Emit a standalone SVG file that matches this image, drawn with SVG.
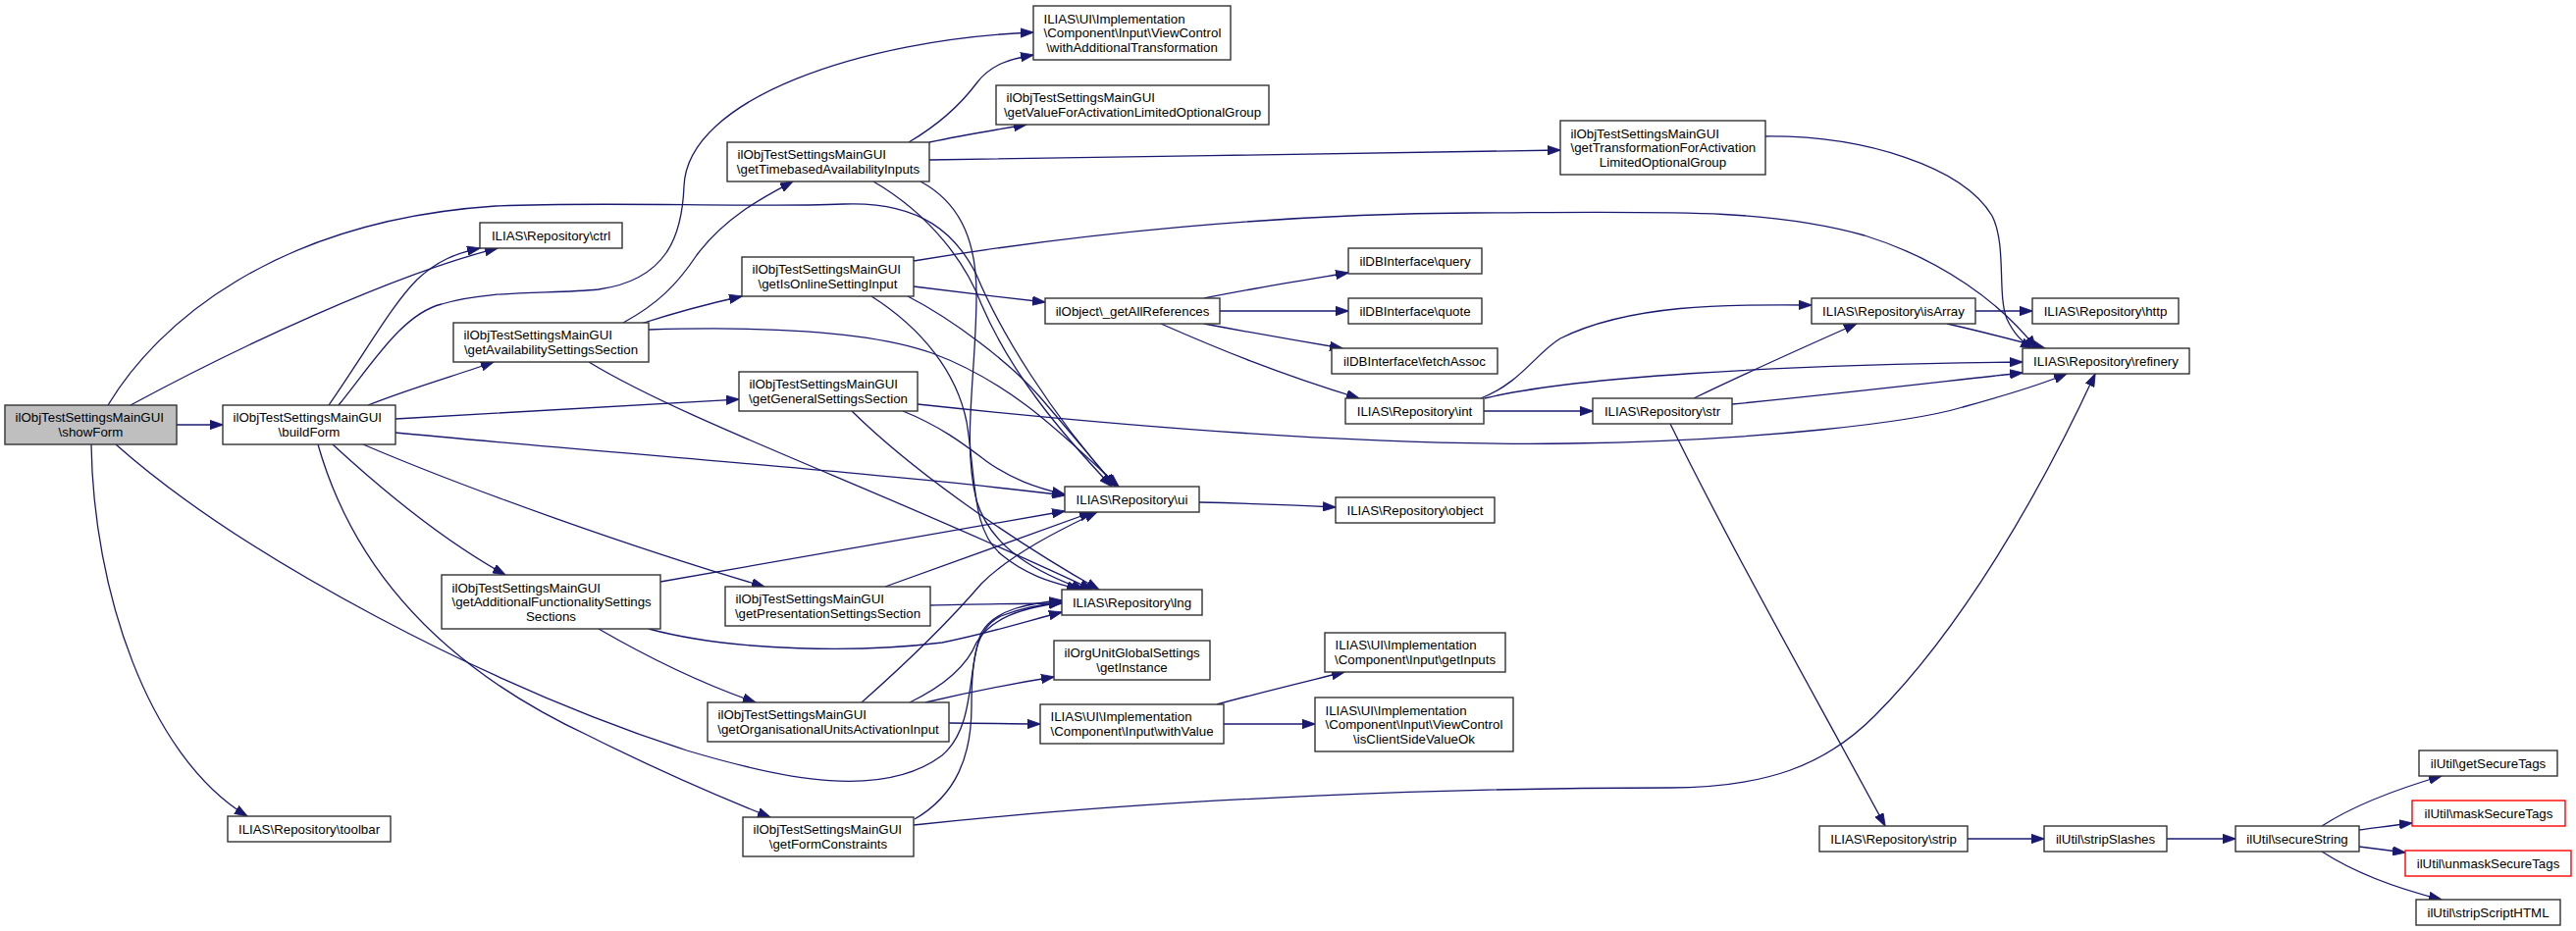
<svg xmlns="http://www.w3.org/2000/svg" width="2625" height="949" viewBox="0 0 2625 949">
<style>
.n rect{fill:#ffffff;stroke:#333333;stroke-width:1.4}
.n.root rect{fill:#bfbfbf}
.n.red rect{stroke:#ff0000}
text{font-family:"Liberation Sans",Arial,Helvetica,sans-serif;font-size:13.3px;fill:#000000}
.c{text-anchor:middle}
.e path{fill:none;stroke:#191970;stroke-width:1.3;marker-end:url(#ah)}
</style>
<defs>
<marker id="ah" markerWidth="14" markerHeight="10" refX="13" refY="5" orient="auto" markerUnits="userSpaceOnUse" viewBox="0 0 14 10">
<path d="M0,0.3 L13.5,5 L0,9.7 Z" fill="#191970" stroke="#191970" stroke-width="0.8"/>
</marker>
</defs>
<rect x="0" y="0" width="2625" height="949" fill="#ffffff"/>

<g id="edges" class="e">
<path d="M180,433 L227,433"/>
<path d="M133,413 C240,355 400,280 507,253"/>
<path d="M110,413 C160,330 280,225 505,210 C620,205 760,212 860,208 C940,205 975,240 995,280 C1020,340 1070,420 1137,496"/>
<path d="M93,453 C95,600 150,770 252,832"/>
<path d="M118,453 C250,570 500,700 700,765 C800,795 900,815 960,770 C995,740 985,680 1000,645 C1015,620 1050,615 1082,612"/>
<path d="M335,413 C375,355 400,310 425,285 C445,266 465,258 489,253"/>
<path d="M345,413 C380,370 410,320 450,310 C500,295 560,300 610,295 C680,285 695,240 697,190 C700,100 880,40 1053,33"/>
<path d="M375,413 C420,395 470,381 503,369"/>
<path d="M403,427 C550,418 650,413 753,407"/>
<path d="M403,441 C600,460 900,482 1085,505"/>
<path d="M370,453 C480,500 650,560 779,598"/>
<path d="M339,453 C390,500 450,550 515,586"/>
<path d="M324,453 C360,580 450,680 600,750 C680,790 740,815 785,833"/>
<path d="M635,329 C670,310 690,290 710,260 C740,220 780,200 808,185"/>
<path d="M653,330 C690,318 720,310 756,302"/>
<path d="M661,336 C760,333 880,335 950,360 C1030,390 1080,440 1140,496"/>
<path d="M600,369 C700,430 900,500 1113,601"/>
<path d="M926,145 C960,125 980,105 995,85 C1010,65 1030,60 1053,56"/>
<path d="M947,145 C980,138 1010,133 1046,127"/>
<path d="M947,163 C1150,160 1400,156 1590,153"/>
<path d="M890,185 C950,220 985,270 1000,310 C1030,380 1080,440 1133,496"/>
<path d="M938,185 C975,205 995,240 995,300 C995,380 980,450 995,510 C1010,560 1060,585 1105,601"/>
<path d="M931,266 C1100,238 1300,218 1500,217 C1700,216 1800,212 1900,240 C1980,265 2040,310 2075,355"/>
<path d="M1799,139 C1900,138 2000,170 2030,220 C2045,250 2035,300 2045,325 C2052,340 2062,350 2072,355"/>
<path d="M931,292 C980,298 1020,303 1065,308"/>
<path d="M925,302 C970,325 1030,370 1060,405 C1090,440 1115,470 1137,496"/>
<path d="M888,302 C940,335 975,380 985,430 C995,490 990,540 1020,565 C1050,590 1080,595 1100,601"/>
<path d="M935,412 C1150,435 1400,455 1600,452 C1800,449 1950,430 2000,415 C2040,404 2080,392 2106,381"/>
<path d="M920,419 C960,435 985,455 1005,470 C1030,488 1055,497 1085,504"/>
<path d="M868,419 C930,480 1030,550 1120,601"/>
<path d="M673,593 C800,570 950,545 1085,521"/>
<path d="M661,641 C750,665 880,665 960,655 C1010,645 1050,632 1082,624"/>
<path d="M610,641 C660,670 710,695 770,716"/>
<path d="M902,598 C980,570 1050,545 1113,522"/>
<path d="M948,617 C1000,616 1040,615 1082,615"/>
<path d="M878,716 C930,670 970,630 1000,595 C1030,565 1080,540 1118,522"/>
<path d="M927,716 C960,700 985,680 995,655 C1010,630 1040,620 1082,614"/>
<path d="M943,716 C990,705 1030,697 1074,690"/>
<path d="M967,737 C1000,737 1030,738 1060,738"/>
<path d="M932,835 C975,810 990,770 990,720 C990,670 995,640 1020,628 C1040,620 1060,616 1082,614"/>
<path d="M931,841 C1200,812 1500,803 1700,803 C1800,803 1860,780 1910,730 C2000,640 2080,500 2135,381"/>
<path d="M1227,304 C1270,295 1320,287 1374,278"/>
<path d="M1243,317 L1374,317"/>
<path d="M1227,330 C1280,340 1320,347 1368,355"/>
<path d="M1183,330 C1240,355 1300,380 1385,406"/>
<path d="M1509,406 C1550,390 1565,360 1590,345 C1660,310 1760,310 1846,311"/>
<path d="M1512,419 L1623,419"/>
<path d="M1513,406 C1600,385 1800,372 2061,369"/>
<path d="M1726,406 C1780,380 1840,353 1892,330"/>
<path d="M1765,412 C1870,402 1970,390 2061,380"/>
<path d="M1702,432 C1770,570 1850,710 1921,842"/>
<path d="M2013,317 L2071,317"/>
<path d="M1984,330 C2020,338 2050,346 2084,355"/>
<path d="M1222,512 C1270,513 1320,515 1361,517"/>
<path d="M1240,718 C1280,707 1330,695 1370,685"/>
<path d="M1247,738 L1340,738"/>
<path d="M2005,855 L2083,855"/>
<path d="M2208,855 L2278,855"/>
<path d="M2366,842 C2400,820 2440,805 2488,791"/>
<path d="M2404,846 C2420,844 2440,841 2458,839"/>
<path d="M2404,863 C2420,865 2435,867 2451,869"/>
<path d="M2366,868 C2400,890 2440,905 2488,917"/>
</g>

<g id="n_showForm" class="n root"><rect x="5" y="413" width="175" height="40"/><text x="15.5" y="430.4">ilObjTestSettingsMainGUI</text><text class="c" x="92.5" y="444.9">\showForm</text></g>
<g id="n_buildForm" class="n"><rect x="227" y="413" width="176" height="40"/><text x="237.5" y="430.4">ilObjTestSettingsMainGUI</text><text class="c" x="315" y="444.9">\buildForm</text></g>
<g id="n_toolbar" class="n"><rect x="232" y="832" width="166" height="26"/><text class="c" x="315" y="849.6">ILIAS\Repository\toolbar</text></g>
<g id="n_ctrl" class="n"><rect x="489" y="227" width="145" height="26"/><text class="c" x="561.5" y="244.6">ILIAS\Repository\ctrl</text></g>
<g id="n_getAvailabilitySettingsSection" class="n"><rect x="462" y="329" width="199" height="40"/><text x="472.5" y="346.4">ilObjTestSettingsMainGUI</text><text class="c" x="561.5" y="360.9">\getAvailabilitySettingsSection</text></g>
<g id="n_getAdditionalFunctionalitySettingsSections" class="n"><rect x="450" y="586" width="223" height="55"/><text x="460.5" y="603.6">ilObjTestSettingsMainGUI</text><text x="460.5" y="618.1">\getAdditionalFunctionalitySettings</text><text class="c" x="561.5" y="632.6">Sections</text></g>
<g id="n_getTimebasedAvailabilityInputs" class="n"><rect x="741" y="145" width="206" height="40"/><text x="751.5" y="162.4">ilObjTestSettingsMainGUI</text><text class="c" x="844" y="176.9">\getTimebasedAvailabilityInputs</text></g>
<g id="n_getIsOnlineSettingInput" class="n"><rect x="756" y="262" width="175" height="40"/><text x="766.5" y="279.4">ilObjTestSettingsMainGUI</text><text class="c" x="843.5" y="293.9">\getIsOnlineSettingInput</text></g>
<g id="n_getGeneralSettingsSection" class="n"><rect x="753" y="379" width="182" height="40"/><text x="763.5" y="396.4">ilObjTestSettingsMainGUI</text><text class="c" x="844" y="410.9">\getGeneralSettingsSection</text></g>
<g id="n_getPresentationSettingsSection" class="n"><rect x="739" y="598" width="209" height="40"/><text x="749.5" y="615.4">ilObjTestSettingsMainGUI</text><text class="c" x="843.5" y="629.9">\getPresentationSettingsSection</text></g>
<g id="n_getOrganisationalUnitsActivationInput" class="n"><rect x="721" y="716" width="246" height="40"/><text x="731.5" y="733.4">ilObjTestSettingsMainGUI</text><text class="c" x="844" y="747.9">\getOrganisationalUnitsActivationInput</text></g>
<g id="n_getFormConstraints" class="n"><rect x="757" y="833" width="174" height="40"/><text x="767.5" y="850.4">ilObjTestSettingsMainGUI</text><text class="c" x="844" y="864.9">\getFormConstraints</text></g>
<g id="n_withAdditionalTransformation" class="n"><rect x="1053" y="6" width="201" height="55"/><text x="1063.5" y="23.6">ILIAS\UI\Implementation</text><text x="1063.5" y="38.1">\Component\Input\ViewControl</text><text class="c" x="1153.5" y="52.6">\withAdditionalTransformation</text></g>
<g id="n_getValueForActivationLimitedOptionalGroup" class="n"><rect x="1015" y="87" width="278" height="40"/><text x="1025.5" y="104.4">ilObjTestSettingsMainGUI</text><text class="c" x="1154" y="118.9">\getValueForActivationLimitedOptionalGroup</text></g>
<g id="n_getAllReferences" class="n"><rect x="1065" y="304" width="178" height="26"/><text class="c" x="1154" y="321.6">ilObject\_getAllReferences</text></g>
<g id="n_ui" class="n"><rect x="1085" y="496" width="137" height="26"/><text class="c" x="1153.5" y="513.6">ILIAS\Repository\ui</text></g>
<g id="n_lng" class="n"><rect x="1082" y="601" width="143" height="26"/><text class="c" x="1153.5" y="618.6">ILIAS\Repository\lng</text></g>
<g id="n_getInstance" class="n"><rect x="1074" y="653" width="159" height="40"/><text x="1084.5" y="670.4">ilOrgUnitGlobalSettings</text><text class="c" x="1153.5" y="684.9">\getInstance</text></g>
<g id="n_withValue" class="n"><rect x="1060" y="718" width="187" height="40"/><text x="1070.5" y="735.4">ILIAS\UI\Implementation</text><text class="c" x="1153.5" y="749.9">\Component\Input\withValue</text></g>
<g id="n_getTransformationForActivationLimitedOptionalGroup" class="n"><rect x="1590" y="123" width="209" height="55"/><text x="1600.5" y="140.6">ilObjTestSettingsMainGUI</text><text x="1600.5" y="155.1">\getTransformationForActivation</text><text class="c" x="1694.5" y="169.6">LimitedOptionalGroup</text></g>
<g id="n_query" class="n"><rect x="1374" y="253" width="136" height="26"/><text class="c" x="1442" y="270.6">ilDBInterface\query</text></g>
<g id="n_quote" class="n"><rect x="1374" y="304" width="136" height="26"/><text class="c" x="1442" y="321.6">ilDBInterface\quote</text></g>
<g id="n_fetchAssoc" class="n"><rect x="1357" y="355" width="169" height="26"/><text class="c" x="1441.5" y="372.6">ilDBInterface\fetchAssoc</text></g>
<g id="n_int" class="n"><rect x="1371" y="406" width="141" height="26"/><text class="c" x="1441.5" y="423.6">ILIAS\Repository\int</text></g>
<g id="n_str" class="n"><rect x="1623" y="406" width="142" height="26"/><text class="c" x="1694" y="423.6">ILIAS\Repository\str</text></g>
<g id="n_object" class="n"><rect x="1361" y="507" width="162" height="26"/><text class="c" x="1442" y="524.6">ILIAS\Repository\object</text></g>
<g id="n_getInputs" class="n"><rect x="1350" y="645" width="184" height="40"/><text x="1360.5" y="662.4">ILIAS\UI\Implementation</text><text class="c" x="1442" y="676.9">\Component\Input\getInputs</text></g>
<g id="n_isClientSideValueOk" class="n"><rect x="1340" y="711" width="202" height="55"/><text x="1350.5" y="728.6">ILIAS\UI\Implementation</text><text x="1350.5" y="743.1">\Component\Input\ViewControl</text><text class="c" x="1441" y="757.6">\isClientSideValueOk</text></g>
<g id="n_isArray" class="n"><rect x="1846" y="304" width="167" height="26"/><text class="c" x="1929.5" y="321.6">ILIAS\Repository\isArray</text></g>
<g id="n_http" class="n"><rect x="2071" y="304" width="149" height="26"/><text class="c" x="2145.5" y="321.6">ILIAS\Repository\http</text></g>
<g id="n_refinery" class="n"><rect x="2061" y="355" width="170" height="26"/><text class="c" x="2146" y="372.6">ILIAS\Repository\refinery</text></g>
<g id="n_strip" class="n"><rect x="1854" y="842" width="151" height="26"/><text class="c" x="1929.5" y="859.6">ILIAS\Repository\strip</text></g>
<g id="n_stripSlashes" class="n"><rect x="2083" y="842" width="125" height="26"/><text class="c" x="2145.5" y="859.6">ilUtil\stripSlashes</text></g>
<g id="n_secureString" class="n"><rect x="2278" y="842" width="126" height="26"/><text class="c" x="2341" y="859.6">ilUtil\secureString</text></g>
<g id="n_getSecureTags" class="n"><rect x="2465" y="765" width="141" height="26"/><text class="c" x="2535.5" y="782.6">ilUtil\getSecureTags</text></g>
<g id="n_maskSecureTags" class="n red"><rect x="2458" y="816" width="156" height="26"/><text class="c" x="2536" y="833.6">ilUtil\maskSecureTags</text></g>
<g id="n_unmaskSecureTags" class="n red"><rect x="2451" y="867" width="169" height="26"/><text class="c" x="2535.5" y="884.6">ilUtil\unmaskSecureTags</text></g>
<g id="n_stripScriptHTML" class="n"><rect x="2462" y="917" width="147" height="26"/><text class="c" x="2535.5" y="934.6">ilUtil\stripScriptHTML</text></g>
</svg>
